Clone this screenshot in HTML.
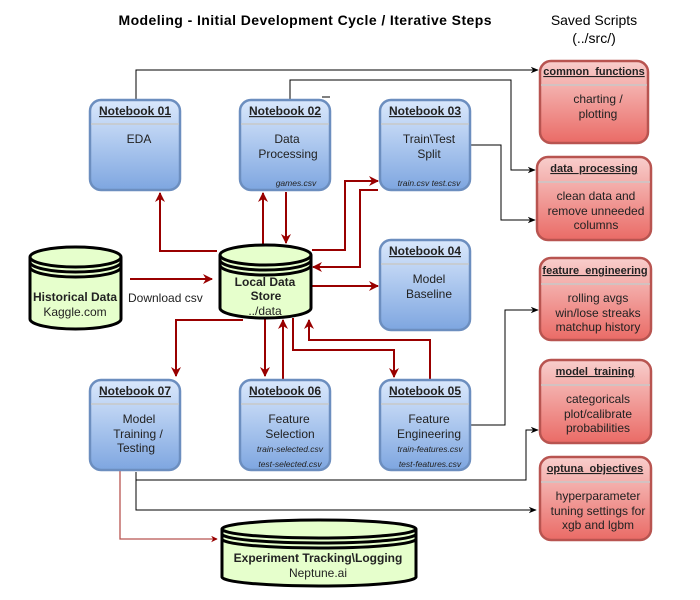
<!DOCTYPE html>
<html><head><meta charset="utf-8"><style>
html,body{margin:0;padding:0;background:#fff;}
svg{display:block;font-family:"Liberation Sans",Arial,sans-serif;}
</style></head><body>
<svg width="700" height="600" viewBox="0 0 700 600" xmlns="http://www.w3.org/2000/svg">
<defs>
<linearGradient id="bl" x1="0" y1="0" x2="0" y2="1"><stop offset="0" stop-color="#dae8fc"/><stop offset="1" stop-color="#7ea6e0"/></linearGradient>
<linearGradient id="rd" x1="0" y1="0" x2="0" y2="1"><stop offset="0" stop-color="#f8cecc"/><stop offset="1" stop-color="#ea6b66"/></linearGradient>
<marker id="ar" viewBox="0 0 10 10" refX="9" refY="5" markerWidth="5" markerHeight="5" orient="auto"><path d="M0,0 L10,5 L0,10 L3,5 Z" fill="#990000"/></marker>
<marker id="ak" viewBox="0 0 10 10" refX="9" refY="5" markerWidth="8" markerHeight="8" orient="auto"><path d="M0,1 L10,5 L0,9 L3,5 Z" fill="#000"/></marker>
</defs>

<text x="305" y="25" text-anchor="middle" font-size="14" font-weight="bold" textLength="373">Modeling - Initial Development Cycle / Iterative Steps</text>
<text x="594" y="25" text-anchor="middle" font-size="14">Saved Scripts</text>
<text x="594" y="43" text-anchor="middle" font-size="14">(../src/)</text>

<!-- black connectors -->
<g fill="none" stroke="#000" stroke-width="1">
<path d="M136,100 V70 H538" marker-end="url(#ak)"/>
<path d="M290,100 V80 H511 V170 H535" marker-end="url(#ak)"/>
<path d="M322,97 H330"/>
<path d="M470,145 H501 V220 H535" marker-end="url(#ak)"/>
<path d="M470,425 H505 V310 H538" marker-end="url(#ak)"/>
<path d="M136,472 V480 H526 V430 H538" marker-end="url(#ak)"/>
<path d="M136,480 V510 H536" marker-end="url(#ak)"/>
</g>

<!-- red connectors -->
<g fill="none" stroke="#990000" stroke-width="2">
<path d="M130,279 H212" marker-end="url(#ar)"/>
<path d="M217,251 H160 V193" marker-end="url(#ar)"/>
<path d="M263,245 V193" marker-end="url(#ar)"/>
<path d="M286,192 V243" marker-end="url(#ar)"/>
<path d="M312,250 H345 V181 H378" marker-end="url(#ar)"/>
<path d="M378,190 H360 V267 H313" marker-end="url(#ar)"/>
<path d="M312,286 H378" marker-end="url(#ar)"/>
<path d="M243,320 H176 V376" marker-end="url(#ar)"/>
<path d="M265,318 V376" marker-end="url(#ar)"/>
<path d="M283,380 V320" marker-end="url(#ar)"/>
<path d="M293,318 V350 H394 V377" marker-end="url(#ar)"/>
<path d="M430,380 V340 H309 V320" marker-end="url(#ar)"/>
</g>
<path d="M120,470 V539 H217" fill="none" stroke="#b85450" stroke-width="1.3" marker-end="url(#ar)"/>
<text x="128" y="302" font-size="12" fill="#222">Download csv</text>

<!-- notebooks -->
<g font-size="12" text-anchor="middle" fill="#222">
<g>
<rect x="90" y="100" width="90" height="90" rx="11" fill="url(#bl)" stroke="#6c8ebf" stroke-width="2.5"/>
<line x1="91" y1="124" x2="179" y2="124" stroke="#c8c8c8" stroke-width="1.5"/>
<text x="135" y="115" font-weight="bold" text-decoration="underline">Notebook 01</text>
<text x="139" y="143">EDA</text>
</g>
<g>
<rect x="240" y="100" width="90" height="90" rx="11" fill="url(#bl)" stroke="#6c8ebf" stroke-width="2.5"/>
<line x1="241" y1="124" x2="329" y2="124" stroke="#c8c8c8" stroke-width="1.5"/>
<text x="285" y="115" font-weight="bold" text-decoration="underline">Notebook 02</text>
<text x="287" y="143">Data</text><text x="288" y="158">Processing</text>
<text x="296" y="186" font-size="8.5" font-style="italic">games.csv</text>
</g>
<g>
<rect x="380" y="100" width="90" height="90" rx="11" fill="url(#bl)" stroke="#6c8ebf" stroke-width="2.5"/>
<line x1="381" y1="124" x2="469" y2="124" stroke="#c8c8c8" stroke-width="1.5"/>
<text x="425" y="115" font-weight="bold" text-decoration="underline">Notebook 03</text>
<text x="429" y="143">Train\Test</text><text x="429" y="158">Split</text>
<text x="429" y="186" font-size="8.5" font-style="italic">train.csv test.csv</text>
</g>
<g>
<rect x="380" y="240" width="90" height="90" rx="11" fill="url(#bl)" stroke="#6c8ebf" stroke-width="2.5"/>
<line x1="381" y1="264" x2="469" y2="264" stroke="#c8c8c8" stroke-width="1.5"/>
<text x="425" y="255" font-weight="bold" text-decoration="underline">Notebook 04</text>
<text x="429" y="283">Model</text><text x="429" y="298">Baseline</text>
</g>
<g>
<rect x="90" y="380" width="90" height="90" rx="11" fill="url(#bl)" stroke="#6c8ebf" stroke-width="2.5"/>
<line x1="91" y1="404" x2="179" y2="404" stroke="#c8c8c8" stroke-width="1.5"/>
<text x="135" y="395" font-weight="bold" text-decoration="underline">Notebook 07</text>
<text x="139" y="423">Model</text><text x="138" y="438">Training /</text><text x="136" y="452">Testing</text>
</g>
<g>
<rect x="240" y="380" width="90" height="90" rx="11" fill="url(#bl)" stroke="#6c8ebf" stroke-width="2.5"/>
<line x1="241" y1="404" x2="329" y2="404" stroke="#c8c8c8" stroke-width="1.5"/>
<text x="285" y="395" font-weight="bold" text-decoration="underline">Notebook 06</text>
<text x="289" y="423">Feature</text><text x="290" y="438">Selection</text>
<text x="290" y="452" font-size="8.5" font-style="italic">train-selected.csv</text>
<text x="290" y="467" font-size="8.5" font-style="italic">test-selected.csv</text>
</g>
<g>
<rect x="380" y="380" width="90" height="90" rx="11" fill="url(#bl)" stroke="#6c8ebf" stroke-width="2.5"/>
<line x1="381" y1="404" x2="469" y2="404" stroke="#c8c8c8" stroke-width="1.5"/>
<text x="425" y="395" font-weight="bold" text-decoration="underline">Notebook 05</text>
<text x="429" y="423">Feature</text><text x="429" y="438">Engineering</text>
<text x="430" y="452" font-size="8.5" font-style="italic">train-features.csv</text>
<text x="430" y="467" font-size="8.5" font-style="italic">test-features.csv</text>
</g>

<!-- red script boxes -->
<g>
<rect x="540" y="61" width="108" height="82" rx="11" fill="url(#rd)" stroke="#b85450" stroke-width="2.5"/>
<line x1="541" y1="85" x2="647" y2="85" stroke="#c8c8c8" stroke-width="1.5"/>
<text x="594" y="75" font-size="11" font-weight="bold" text-decoration="underline">common_functions</text>
<text x="598" y="103">charting /</text><text x="598" y="118">plotting</text>
</g>
<g>
<rect x="537" y="157" width="114" height="83" rx="11" fill="url(#rd)" stroke="#b85450" stroke-width="2.5"/>
<line x1="538" y1="182" x2="650" y2="182" stroke="#c8c8c8" stroke-width="1.5"/>
<text x="594" y="172" font-size="11" font-weight="bold" text-decoration="underline">data_processing</text>
<text x="596" y="200">clean data and</text><text x="596" y="215">remove unneeded</text><text x="596" y="229">columns</text>
</g>
<g>
<rect x="540" y="258" width="111" height="82" rx="11" fill="url(#rd)" stroke="#b85450" stroke-width="2.5"/>
<line x1="541" y1="284" x2="650" y2="284" stroke="#c8c8c8" stroke-width="1.5"/>
<text x="595" y="274" font-size="11" font-weight="bold" text-decoration="underline">feature_engineering</text>
<text x="598" y="302">rolling avgs</text><text x="598" y="317">win/lose streaks</text><text x="598" y="331">matchup history</text>
</g>
<g>
<rect x="540" y="360" width="111" height="83" rx="11" fill="url(#rd)" stroke="#b85450" stroke-width="2.5"/>
<line x1="541" y1="385" x2="650" y2="385" stroke="#c8c8c8" stroke-width="1.5"/>
<text x="595" y="375" font-size="11" font-weight="bold" text-decoration="underline">model_training</text>
<text x="598" y="403">categoricals</text><text x="598" y="418">plot/calibrate</text><text x="598" y="432">probabilities</text>
</g>
<g>
<rect x="540" y="457" width="111" height="83" rx="11" fill="url(#rd)" stroke="#b85450" stroke-width="2.5"/>
<line x1="541" y1="482" x2="650" y2="482" stroke="#c8c8c8" stroke-width="1.5"/>
<text x="595" y="472" font-size="11" font-weight="bold" text-decoration="underline">optuna_objectives</text>
<text x="598" y="500">hyperparameter</text><text x="598" y="515">tuning settings for</text><text x="598" y="529">xgb and lgbm</text>
</g>
</g>

<!-- cylinders -->
<g fill="#e6ffcc" stroke="#000" stroke-width="3">
<path d="M30,257 A45.5,10 0 0 1 121,257 V319 A45.5,10 0 0 1 30,319 Z"/>
<path d="M30,257 A45.5,10 0 0 0 121,257 M30,262 A45.5,10 0 0 0 121,262 M30,267 A45.5,10 0 0 0 121,267" fill="none"/>
<path d="M220,255 A45.5,10 0 0 1 311,255 V308 A45.5,10 0 0 1 220,308 Z"/>
<path d="M220,255 A45.5,10 0 0 0 311,255 M220,260 A45.5,10 0 0 0 311,260 M220,265 A45.5,10 0 0 0 311,265" fill="none"/>
<path d="M222,529 A97,9 0 0 1 416,529 V577 A97,9 0 0 1 222,577 Z"/>
<path d="M222,529 A97,9 0 0 0 416,529 M222,534 A97,9 0 0 0 416,534 M222,539 A97,9 0 0 0 416,539" fill="none"/>
</g>
<g font-size="12" text-anchor="middle" fill="#222">
<text x="75" y="301" font-weight="bold">Historical Data</text>
<text x="75" y="316">Kaggle.com</text>
<text x="265" y="286" font-weight="bold">Local Data</text>
<text x="266" y="300" font-weight="bold">Store</text>
<text x="265" y="315">../data</text>
<text x="318" y="562" font-weight="bold">Experiment Tracking\Logging</text>
<text x="318" y="577">Neptune.ai</text>
</g>
</svg>
</body></html>
